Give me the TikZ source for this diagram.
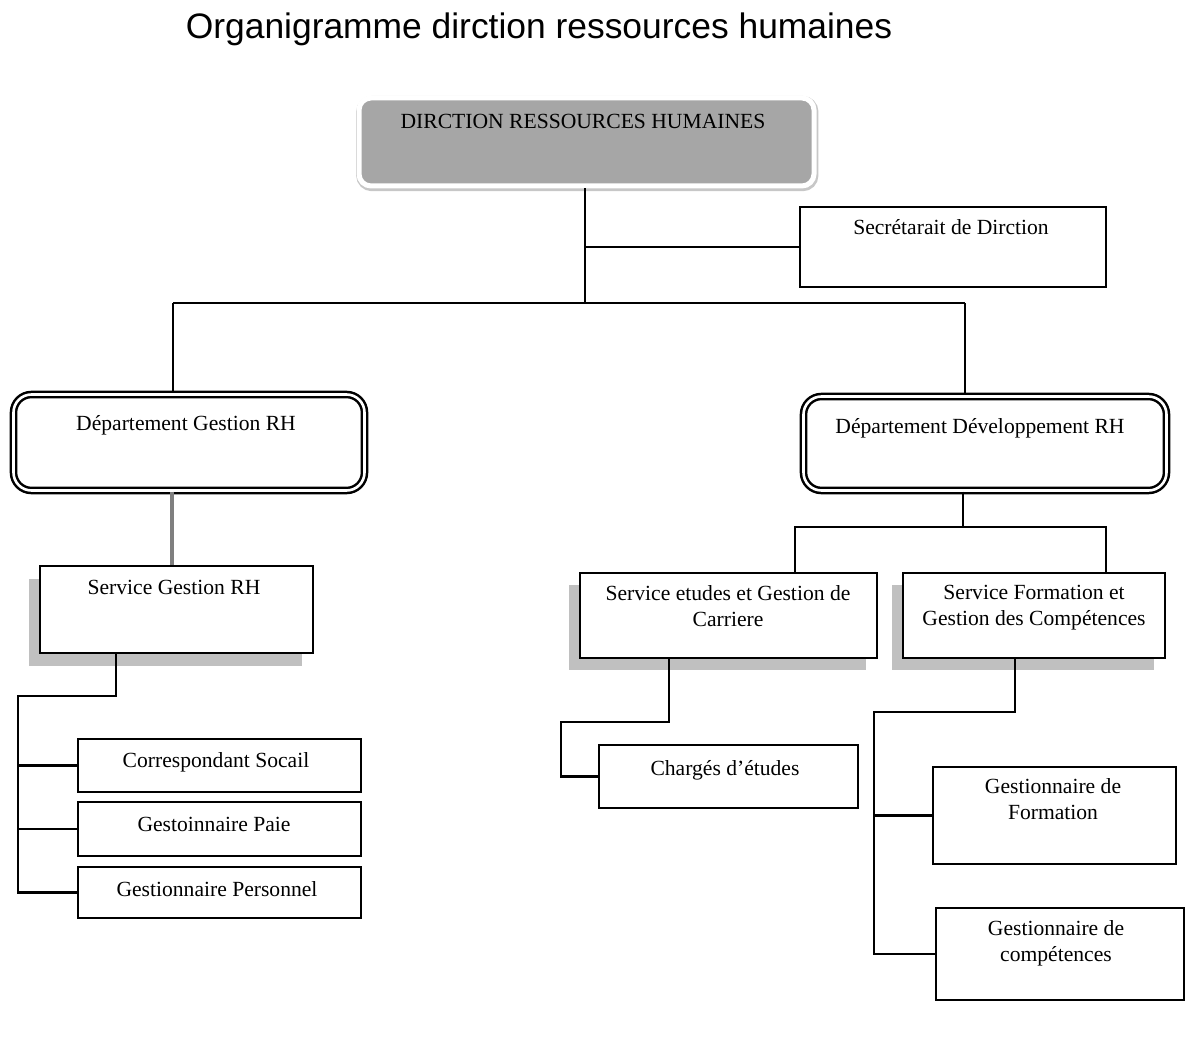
\documentclass[tikz,border=0pt]{standalone}
\usepackage{fontspec}
\setmainfont{Liberation Serif}
\newfontfamily\headfont{Liberation Sans}
\usetikzlibrary{fit}
\definecolor{boxgray}{HTML}{A6A6A6}
\definecolor{shadegray}{HTML}{C0C0C0}
\definecolor{linkgray}{HTML}{7F7F7F}
\begin{document}
\begin{tikzpicture}[x=0.5pt,y=-0.5pt,
  frame/.style={draw=black, line width=1.1pt, fill=white, inner sep=0pt},
  shade/.style={fill=shadegray, draw=none, inner sep=0pt},
  dept/.style={draw=black, double=white, double distance=1.3pt, line width=1.25pt,
               rounded corners=9pt, inner sep=0pt},
  head/.style={fill=boxgray, draw=white, line width=2.5pt, rounded corners=6pt, inner sep=0pt,
               preaction={draw=black!22, line width=3.6pt, transform canvas={xshift=0.4pt,yshift=-0.8pt}}},
  lbl/.style={anchor=north, inner sep=0pt, align=center, font=\fontsize{10.8}{13}\selectfont},
  link/.style={draw=black, line width=1.1pt},
  ]
\useasboundingbox (0,0) rectangle (1190,1042);

% title
\node[anchor=base, inner sep=0pt, font=\headfont\fontsize{17.7}{20}\selectfont] (title)
  at (539,39) {Organigramme dirction ressources humaines};

% direction
\node[head, fit={(359,98)(814,186)}] (dir) {};
\node[lbl] (dirT) at (583,114) {DIRCTION RESSOURCES HUMAINES};

% secretariat
\node[frame, fit={(800,207)(1106,287)}] (sec) {};
\node[lbl] (secT) at (951,219) {Secrétarait de Dirction};

% departments
\node[dept, fit={(13.5,394.5)(364.5,490.5)}] (dgrh) {};
\node[lbl] (dgrhT) at (186,415) {Département Gestion RH};
\node[dept, fit={(803.5,396.5)(1166.5,490.5)}] (ddrh) {};
\node[lbl] (ddrhT) at (980,418) {Département Développement RH};

% services with shadows
\node[shade, fit={(29,579)(302,666)}] (sgrhS) {};
\node[frame, fit={(40,566)(313,653)}] (sgrh) {};
\node[lbl] (sgrhT) at (174,580) {Service Gestion RH};

\node[shade, fit={(569,585)(866,670)}] (secAS) {};
\node[frame, fit={(580,573)(877,658)}] (secA) {};
\node[lbl] (secAT) at (728,585) {Service etudes et Gestion de\\Carriere};

\node[shade, fit={(892,585)(1154,670)}] (secBS) {};
\node[frame, fit={(903,573)(1165,658)}] (secB) {};
\node[lbl] (secBT) at (1034,585) {Service Formation et\\Gestion des Compétences};

% staff, left branch
\node[frame, fit={(78,739)(361,792)}] (cs) {};
\node[lbl] (csT) at (216,752) {Correspondant Socail};
\node[frame, fit={(78,802)(361,856)}] (gpa) {};
\node[lbl] (gpaT) at (214,817) {Gestoinnaire Paie};
\node[frame, fit={(78,867)(361,918)}] (gpe) {};
\node[lbl] (gpeT) at (217,881) {Gestionnaire Personnel};

% staff, right branches
\node[frame, fit={(599,745)(858,808)}] (ce) {};
\node[lbl] (ceT) at (725,760) {Chargés d’études};
\node[frame, fit={(933,767)(1176,864)}] (gf) {};
\node[lbl] (gfT) at (1053,778) {Gestionnaire de\\Formation};
\node[frame, fit={(936,908)(1184,1000)}] (gc) {};
\node[lbl] (gcT) at (1056,920) {Gestionnaire de\\compétences};

% junction points
\coordinate (bus)  at (585,303);
\coordinate (busL) at (173,303);
\coordinate (busR) at (965,303);
\coordinate (hubR) at (963,527);
\coordinate (hubA) at (795,527);
\coordinate (hubB) at (1106,527);
\coordinate (kneeL1) at (116,696);
\coordinate (kneeL2) at (18,696);
\coordinate (kneeA1) at (669,722);
\coordinate (kneeA2) at (561,722);
\coordinate (kneeB1) at (1015,712);
\coordinate (kneeB2) at (874,712);

% connectors
\draw[link] (bus |- dir.south) -- (bus);
\draw[link] (bus |- sec.west) -- (sec.west);
\draw[link] (busL) -- (busR);
\draw[link] (busL) -- (busL |- dgrh.north);
\draw[link] (busR) -- (busR |- ddrh.north);

\draw[draw=linkgray, line width=2pt] (172,0 |- dgrh.south) -- (172,0 |- sgrh.north);
\draw[link] (kneeL1 |- sgrh.south) -- (kneeL1) -- (kneeL2) -- (kneeL2 |- gpe.west) -- (gpe.west);
\draw[link] (kneeL2 |- cs.west) -- (cs.west);
\draw[link] (kneeL2 |- gpa.west) -- (gpa.west);

\draw[link] (hubR |- ddrh.south) -- (hubR);
\draw[link] (hubA |- secA.north) -- (hubA) -- (hubB) -- (hubB |- secB.north);

\draw[link] (kneeA1 |- secA.south) -- (kneeA1) -- (kneeA2) -- (kneeA2 |- ce.west) -- (ce.west);

\draw[link] (kneeB1 |- secB.south) -- (kneeB1) -- (kneeB2) -- (kneeB2 |- gc.west) -- (gc.west);
\draw[link] (kneeB2 |- gf.west) -- (gf.west);
\end{tikzpicture}
\end{document}
